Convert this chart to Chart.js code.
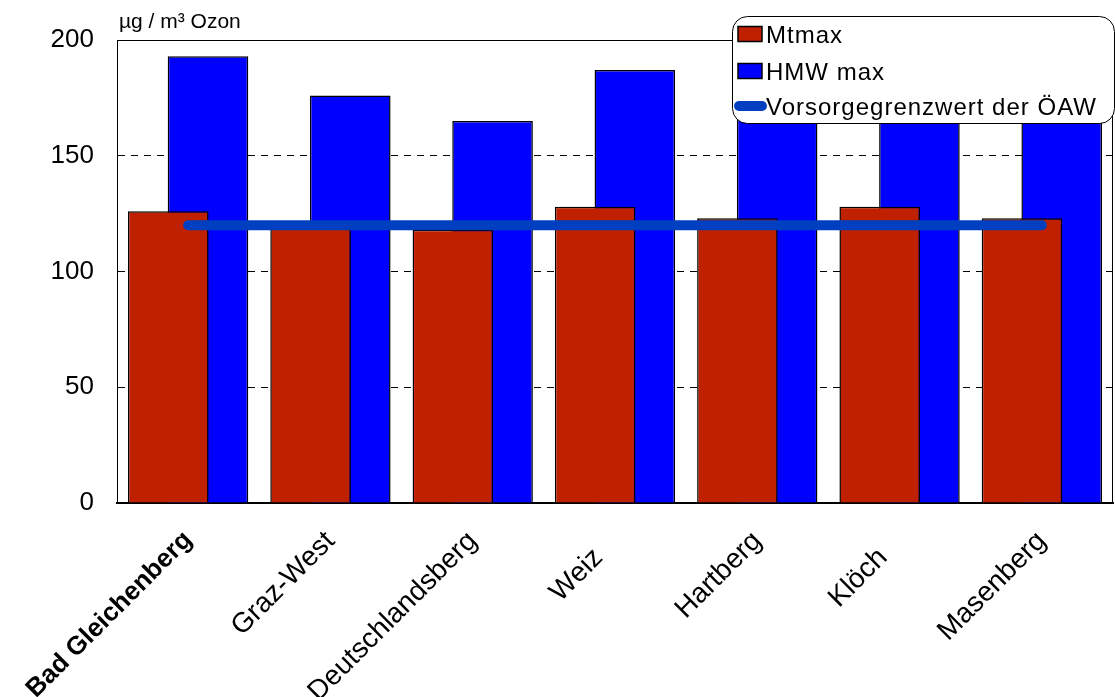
<!DOCTYPE html>
<html>
<head>
<meta charset="utf-8">
<script src="https://cdn.jsdelivr.net/npm/chart.js@4/dist/chart.umd.min.js"></script>
<style>
  html, body { margin: 0; padding: 0; background: #fff; }
  #wrap { width: 1115px; height: 697px; }
</style>
</head>
<body>
<div id="wrap"><canvas id="c" width="1115" height="697"></canvas></div>
<script>
// Ozone measurement stations (Styria)
const stations = ['Bad Gleichenberg', 'Graz-West', 'Deutschlandsberg', 'Weiz', 'Hartberg', 'Klöch', 'Masenberg'];
// highest daily mean value (µg/m³)
const mtmax = [126, 119, 118, 128, 123, 128, 123];
// highest half-hour mean value (µg/m³)
const hmwMax = [193, 176, 165, 187, 178, 172, 182];
// precautionary limit of the Austrian Academy of Sciences
const oeawLimit = [120, 120, 120, 120, 120, 120, 120];
const yTicks = [0, 50, 100, 150, 200];
const unitLabel = 'µg / m³ Ozon';

const FONT = '"Liberation Sans", Arial, sans-serif';

// Title, plot frame and legend box drawn on top of the plot area
const overlay = {
  id: 'overlay',
  afterDraw(chart) {
    const ctx = chart.ctx;
    const a = chart.chartArea;
    ctx.save();
    // unit label above the value axis
    ctx.fillStyle = '#000';
    ctx.font = '21px ' + FONT;
    ctx.textAlign = 'left';
    ctx.textBaseline = 'alphabetic';
    ctx.fillText(unitLabel, a.left + 2, 28);

    // frame around the plot area
    ctx.strokeStyle = '#000';
    ctx.lineWidth = 1;
    ctx.beginPath();
    ctx.moveTo(a.left + 0.5, a.bottom);
    ctx.lineTo(a.left + 0.5, a.top + 0.5);
    ctx.lineTo(a.right - 0.5, a.top + 0.5);
    ctx.lineTo(a.right - 0.5, a.bottom);
    ctx.stroke();

    // legend
    const bx = 732, by = 16, bw = 382, bh = 107;
    ctx.beginPath();
    if (ctx.roundRect) {
      ctx.roundRect(bx + 0.5, by + 0.5, bw, bh, 15);
    } else {
      ctx.rect(bx + 0.5, by + 0.5, bw, bh);
    }
    ctx.fillStyle = '#fff';
    ctx.fill();
    ctx.strokeStyle = '#000';
    ctx.lineWidth = 1;
    ctx.stroke();

    const baselines = [43, 80, 115];
    ctx.font = '24px ' + FONT;
    if ('letterSpacing' in ctx) ctx.letterSpacing = '1px';
    const order = [1, 2, 0];
    order.forEach((di, i) => {
      const ds = chart.data.datasets[di];
      const yb = baselines[i];
      if (ds.type === 'line') {
        ctx.beginPath();
        ctx.lineCap = 'round';
        ctx.lineWidth = 10;
        ctx.strokeStyle = ds.borderColor;
        ctx.moveTo(739, yb - 9);
        ctx.lineTo(762, yb - 9);
        ctx.stroke();
      } else {
        ctx.fillStyle = ds.backgroundColor;
        ctx.fillRect(738, yb - 16.5, 24, 15);
        ctx.lineWidth = 1.5;
        ctx.strokeStyle = '#000';
        ctx.strokeRect(738, yb - 16.5, 24, 15);
      }
      ctx.fillStyle = '#000';
      ctx.fillText(ds.label, 766, yb);
    });
    ctx.restore();
  }
};

new Chart(document.getElementById('c'), {
  type: 'bar',
  data: {
    labels: stations,
    datasets: [
      {
        type: 'line',
        label: 'Vorsorgegrenzwert der ÖAW',
        data: oeawLimit,
        borderColor: '#0040C0',
        backgroundColor: '#0040C0',
        borderWidth: 10,
        borderCapStyle: 'round',
        pointRadius: 0,
        pointHoverRadius: 0,
        fill: false,
        order: 0
      },
      {
        label: 'Mtmax',
        data: mtmax,
        backgroundColor: '#BF2000',
        borderColor: '#000',
        borderWidth: 1.5,
        borderSkipped: 'start',
        categoryPercentage: 0.558,
        barPercentage: 2.03,
        order: 1
      },
      {
        label: 'HMW max',
        data: hmwMax,
        backgroundColor: '#0000FF',
        borderColor: '#000',
        borderWidth: 1.5,
        borderSkipped: 'start',
        categoryPercentage: 0.558,
        barPercentage: 2.03,
        order: 2
      }
    ]
  },
  options: {
    responsive: false,
    animation: false,
    events: [],
    layout: { padding: { left: 0, right: 2, top: 40, bottom: 0 } },
    plugins: {
      legend: { display: false },
      tooltip: { enabled: false },
      title: { display: false }
    },
    scales: {
      x: {
        grid: { display: false, drawTicks: false },
        border: { display: true, color: '#000', width: 2 },
        ticks: {
          color: '#000',
          minRotation: 45,
          maxRotation: 45,
          padding: 22,
          // short names sit a little further along the slant
          callback(value, index) {
            const name = this.getLabelForValue(value);
            return name.length <= 5 ? name + '   ' : name;
          },
          font: (c) => (c.index === 0
            ? { family: FONT, size: 26, weight: 'bold' }
            : { family: FONT, size: 28, weight: 'normal' })
        },
        afterFit(scale) { scale.height = 194; }
      },
      y: {
        min: 0,
        max: 200,
        afterBuildTicks(scale) { scale.ticks = yTicks.map(v => ({ value: v })); },
        grid: {
          drawTicks: false,
          tickLength: 0,
          color: (c) => (c.tick && (c.tick.value === 0 || c.tick.value === 200)) ? 'rgba(0,0,0,0)' : '#000',
          lineWidth: 1
        },
        border: { display: true, color: '#000', width: 1, dash: [7, 6] },
        ticks: {
          color: '#000',
          padding: 23,
          font: { family: FONT, size: 26 }
        },
        afterFit(scale) { scale.width = 117; }
      }
    }
  },
  plugins: [overlay]
});
</script>
</body>
</html>
